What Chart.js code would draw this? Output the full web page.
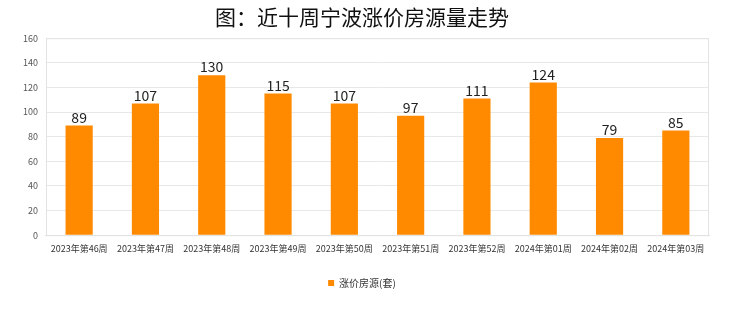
<!DOCTYPE html>
<html>
<head>
<meta charset="utf-8">
<script src="https://cdn.jsdelivr.net/npm/chart.js@4/dist/chart.umd.min.js"></script>
<style>
  html, body { margin: 0; padding: 0; background: #fff; }
  #wrap { width: 740px; height: 312px; }
</style>
</head>
<body>
<div id="wrap"><canvas id="chartCanvas"></canvas></div>
<script>
// --- Data ---
const weeks = ["2023年第46周", "2023年第47周", "2023年第48周", "2023年第49周", "2023年第50周",
               "2023年第51周", "2023年第52周", "2024年第01周", "2024年第02周", "2024年第03周"];
const priceUpListings = [89, 107, 130, 115, 107, 97, 111, 124, 79, 85];
const yTicks = [0, 20, 40, 60, 80, 100, 120, 140, 160];

const FONT = "'Noto Sans CJK SC', 'Noto Sans', sans-serif";

// value labels above each bar
const valueLabels = {
  id: "valueLabels",
  afterDatasetsDraw(chart) {
    const ctx = chart.ctx;
    const meta = chart.getDatasetMeta(0);
    ctx.save();
    ctx.font = "14px " + FONT;
    ctx.fillStyle = "#222";
    ctx.textAlign = "center";
    ctx.textBaseline = "bottom";
    meta.data.forEach((bar, i) => {
      ctx.fillText(priceUpListings[i], bar.x, bar.y - 1);
    });
    ctx.restore();
  }
};

// thin box round the plot area
const plotBorder = {
  id: "plotBorder",
  beforeDatasetsDraw(chart) {
    const { ctx, chartArea: a } = chart;
    ctx.save();
    ctx.strokeStyle = "#e3e3e3";
    ctx.lineWidth = 1;
    ctx.strokeRect(a.left + 0.5, a.top + 0.5, a.right - a.left - 1, a.bottom - a.top);
    ctx.restore();
  }
};

new Chart(document.getElementById("chartCanvas"), {
  type: "bar",
  data: {
    labels: weeks,
    datasets: [{
      label: "涨价房源(套)",
      data: priceUpListings,
      backgroundColor: "#FF8A00",
      categoryPercentage: 1.0,
      barPercentage: 0.41
    }]
  },
  options: {
    responsive: true,
    maintainAspectRatio: false,
    animation: false,
    layout: { padding: { left: 15, right: 31, top: 0, bottom: 14 } },
    plugins: {
      title: {
        display: true,
        text: "图：近十周宁波涨价房源量走势",
        color: "#111",
        font: { family: FONT, size: 21, weight: "normal" },
        padding: { top: 4, bottom: 9 }
      },
      legend: {
        position: "bottom",
        labels: {
          boxWidth: 6,
          boxHeight: 6,
          color: "#333",
          font: { family: FONT, size: 10 },
          padding: 24
        }
      },
      tooltip: { enabled: false }
    },
    scales: {
      x: {
        grid: { display: false },
        border: { color: "#e3e3e3" },
        ticks: {
          autoSkip: false,
          maxRotation: 0,
          color: "#333",
          padding: 0,
          font: { family: FONT, size: 9 }
        }
      },
      y: {
        min: 0,
        max: 160,
        afterBuildTicks(axis) { axis.ticks = yTicks.map(v => ({ value: v })); },
        grid: { color: "#e8e8e8", drawTicks: false },
        border: { display: false },
        ticks: {
          color: "#555",
          padding: 8,
          font: { family: FONT, size: 9 }
        }
      }
    }
  },
  plugins: [valueLabels, plotBorder]
});
</script>
</body>
</html>
